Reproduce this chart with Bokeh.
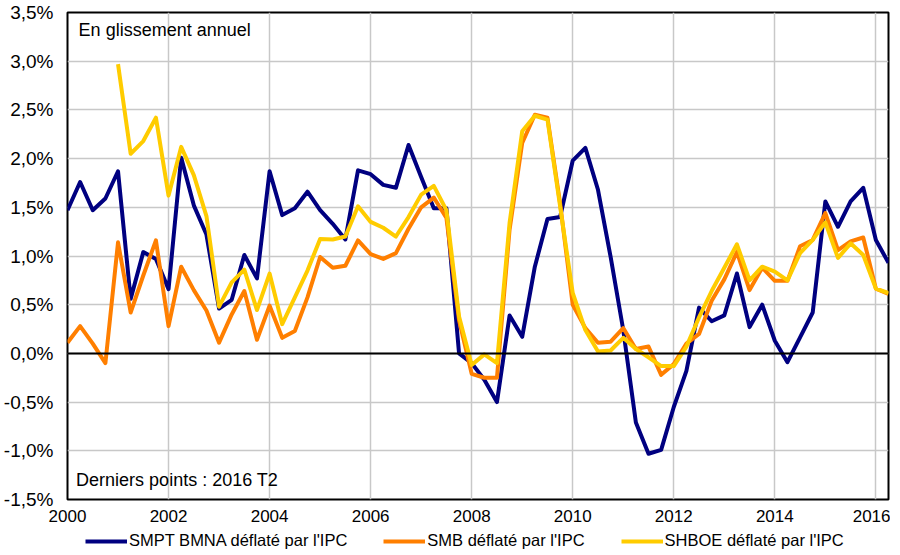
import numpy as np
from bokeh.plotting import figure
from bokeh.layouts import column
from bokeh.models import (ColumnDataSource, FixedTicker, Span, Label, Legend, LegendItem, Range1d)
from bokeh.embed import file_html
from bokeh.resources import INLINE

# Quarterly data, 2000 T1 .. 2016 T2 (year-on-year, %)
start_year = 2000
n_quarters = 66

smpt_bmna = [1.47, 1.76, 1.47, 1.59, 1.87, 0.56, 1.04, 0.97, 0.66, 2.01, 1.52, 1.22,
             0.46, 0.55, 1.01, 0.77, 1.87, 1.42, 1.49, 1.66, 1.47, 1.33, 1.17, 1.88,
             1.84, 1.73, 1.70, 2.14, 1.81, 1.49, 1.49, 0.00, -0.10, -0.27, -0.50, 0.39,
             0.17, 0.89, 1.38, 1.40, 1.98, 2.11, 1.68, 0.99, 0.24, -0.71, -1.03, -0.99,
             -0.55, -0.18, 0.47, 0.33, 0.39, 0.82, 0.27, 0.50, 0.13, -0.09, 0.165, 0.42,
             1.56, 1.30, 1.56, 1.70, 1.165, 0.93]

smb = [0.11, 0.28, 0.10, -0.10, 1.14, 0.42, 0.80, 1.16, 0.28, 0.89, 0.65, 0.44,
       0.11, 0.40, 0.64, 0.14, 0.49, 0.16, 0.23, 0.575, 0.99, 0.88, 0.90, 1.16,
       1.02, 0.97, 1.03, 1.28, 1.50, 1.60, 1.39, 0.34, -0.21, -0.25, -0.25, 1.27,
       2.16, 2.45, 2.42, 1.54, 0.50, 0.26, 0.11, 0.12, 0.26, 0.045, 0.07, -0.22,
       -0.11, 0.10, 0.20, 0.54, 0.76, 1.04, 0.65, 0.88, 0.745, 0.745, 1.10, 1.165,
       1.44, 1.06, 1.15, 1.19, 0.665, 0.61]

shboe = [np.nan, np.nan, np.nan, np.nan, 2.97, 2.05, 2.18, 2.42, 1.62, 2.12, 1.83, 1.41,
         0.48, 0.73, 0.86, 0.445, 0.82, 0.30, 0.575, 0.85, 1.175, 1.17, 1.20, 1.51,
         1.35, 1.29, 1.20, 1.40, 1.63, 1.72, 1.47, 0.38, -0.12, -0.01, -0.10, 1.34,
         2.28, 2.44, 2.40, 1.51, 0.62, 0.24, 0.02, 0.03, 0.16, 0.045, -0.04, -0.13,
         -0.13, 0.07, 0.37, 0.64, 0.88, 1.12, 0.75, 0.89, 0.84, 0.75, 1.03, 1.165,
         1.345, 0.98, 1.13, 1.01, 0.665, 0.62]

series_names = ["SMPT BMNA déflaté par l'IPC", "SMB déflaté par l'IPC", "SHBOE déflaté par l'IPC"]
series_cols = ["s1", "s2", "s3"]
series_colors = ["#000080", "#ff7f00", "#ffcc00"]

x_ticks = [2000, 2002, 2004, 2006, 2008, 2010, 2012, 2014, 2016]
y_ticks = [-1.5, -1.0, -0.5, 0.0, 0.5, 1.0, 1.5, 2.0, 2.5, 3.0, 3.5]
y_tick_labels = ["-1,5%", "-1,0%", "-0,5%", "0,0%", "0,5%", "1,0%", "1,5%", "2,0%", "2,5%", "3,0%", "3,5%"]

quarters = [start_year + i * 0.25 for i in range(n_quarters)]

source = ColumnDataSource(dict(x=quarters,
                               s1=np.array(smpt_bmna, dtype=float),
                               s2=np.array(smb, dtype=float),
                               s3=np.array(shboe, dtype=float)))

FONT = "Liberation Sans"
LINE_W = 4
FIG_W = 890

p = figure(width=FIG_W, height=524, output_backend="svg", toolbar_location=None,
           x_range=Range1d(2000, quarters[-1]), y_range=Range1d(-1.5, 3.5),
           min_border_left=62, min_border_right=2, min_border_top=12, min_border_bottom=20)

p.background_fill_color = "white"
p.border_fill_color = "white"
p.outline_line_color = "black"
p.outline_line_width = 2

for ax in (p.xaxis[0], p.yaxis[0]):
    ax.axis_line_color = None
    ax.major_tick_line_color = None
    ax.minor_tick_line_color = None
    ax.major_label_text_font = FONT
    ax.major_label_text_color = "black"

p.xaxis.major_label_text_font_size = "17px"
p.yaxis.major_label_text_font_size = "19px"
p.xaxis.ticker = FixedTicker(ticks=x_ticks)
p.xaxis.major_label_standoff = 4
p.yaxis.ticker = FixedTicker(ticks=y_ticks)
p.yaxis.major_label_overrides = {t: l for t, l in zip(y_ticks, y_tick_labels)}
p.yaxis.major_label_standoff = 8

p.xgrid.ticker = FixedTicker(ticks=x_ticks)
p.ygrid.ticker = FixedTicker(ticks=y_ticks)
for g in (p.xgrid[0], p.ygrid[0]):
    g.grid_line_color = "#c8c8c8"
    g.grid_line_width = 1.5

p.add_layout(Span(location=0, dimension="width", line_color="black", line_width=2))

for col, color in zip(series_cols, series_colors):
    p.line("x", col, source=source, line_color=color, line_width=LINE_W, line_join="round")

p.add_layout(Label(x=2000.22, y=3.32, text="En glissement annuel", text_font=FONT,
                   text_font_size="18px", text_baseline="middle", text_color="black"))
p.add_layout(Label(x=2000.17, y=-1.30, text="Derniers points : 2016 T2", text_font=FONT,
                   text_font_size="18px", text_baseline="middle", text_color="black"))

# Legend strip below the chart (same series, outside this strip's visible range)
lg = figure(width=FIG_W, height=27, output_backend="svg", toolbar_location=None,
            x_range=Range1d(0, 1), y_range=Range1d(0, 1),
            min_border_left=0, min_border_right=0, min_border_top=0, min_border_bottom=0)
lg.axis.visible = False
lg.grid.visible = False
lg.outline_line_color = None
lg.background_fill_color = "white"
lg.border_fill_color = "white"

items = []
for name, col, color in zip(series_names, series_cols, series_colors):
    r = lg.line("x", col, source=source, line_color=color, line_width=LINE_W)
    items.append(LegendItem(label=name, renderers=[r]))

legend = Legend(items=items, orientation="horizontal", location=(18, 1),
                border_line_color=None, background_fill_alpha=0,
                label_text_font=FONT, label_text_font_size="16.5px", label_text_color="black",
                glyph_width=42, glyph_height=18, label_standoff=2, spacing=36,
                padding=0, margin=0)
lg.add_layout(legend, "center")

layout = column(p, lg, spacing=0)
open("out.html", "w").write(file_html(layout, INLINE))
